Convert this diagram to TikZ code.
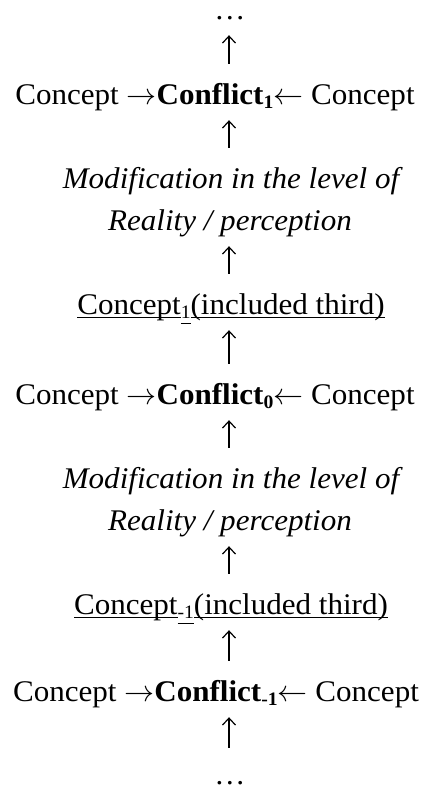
\RequirePackage{fix-cm}
\documentclass[tikz,border=0pt]{standalone}
\usepackage{fontspec}
\setmainfont{Liberation Serif}[FakeStretch=1.035]
\usetikzlibrary{arrows.meta}
\newcommand\myul[2]{\setbox0\hbox{#2}\rlap{\rule[-#1]{\wd0}{1.1pt}}\box0}
\newcommand\mysub[1]{\raisebox{-4.5pt}{\fontsize{19}{19}\selectfont #1}}
\newcommand\rarr{$\mathord{\rightarrow}$}
\newcommand\larr{$\mathord{\leftarrow}$}
\tikzset{
  txt/.style={inner sep=0pt, anchor=base, text height=20pt, text depth=6pt,
              font=\fontsize{30}{36}\selectfont},
  dots/.style={txt, text height=8pt},
  uparr/.style={-{Straight Barb[length=7pt,width=13pt,line width=1.2pt]},
                line width=1.3pt, shorten <=20pt, shorten >=10pt},
}
\begin{document}
\begin{tikzpicture}[x=1pt,y=-1pt]
\useasboundingbox[fill=white] (0,0) rectangle (425,793);
\coordinate (axis) at (229,0);
\node[dots] (dtop) at (230,19) {…};
\node[txt] (c1) at (215,104) {Concept \rarr\textbf{Conflict}\mysub{\bfseries 1}\larr\ Concept};
\node[txt] (m1) at (231,188) {\itshape Modification in the level of};
\node[txt] (r1) at (230,230) {\itshape Reality / perception};
\node[txt] (i1) at (231,314) {\myul{4pt}{Concept}\mysub{\myul{5.5pt}{1}}\myul{4pt}{(included third)}};
\node[txt] (c0) at (215,404) {Concept \rarr\textbf{Conflict}\mysub{\bfseries 0}\larr\ Concept};
\node[txt] (m0) at (231,488) {\itshape Modification in the level of};
\node[txt] (r0) at (230,530) {\itshape Reality / perception};
\node[txt] (im) at (231,614) {\myul{4pt}{Concept}\mysub{\myul{5.5pt}{-1}}\myul{4pt}{(included third)}};
\node[txt] (cm) at (216,701) {Concept \rarr\textbf{Conflict}\mysub{\bfseries -1}\larr\ Concept};
\node[dots] (dbot) at (230,784) {…};
\draw[uparr] (c1.north -| axis) -- (dtop.south -| axis);
\draw[uparr] (m1.north -| axis) -- (c1.south -| axis);
\draw[uparr] (i1.north -| axis) -- (r1.south -| axis);
\draw[uparr] (c0.north -| axis) -- (i1.south -| axis);
\draw[uparr] (m0.north -| axis) -- (c0.south -| axis);
\draw[uparr] (im.north -| axis) -- (r0.south -| axis);
\draw[uparr] (cm.north -| axis) -- (im.south -| axis);
\draw[uparr, shorten <=28pt] (dbot.north -| axis) -- (cm.south -| axis);
\end{tikzpicture}
\end{document}
